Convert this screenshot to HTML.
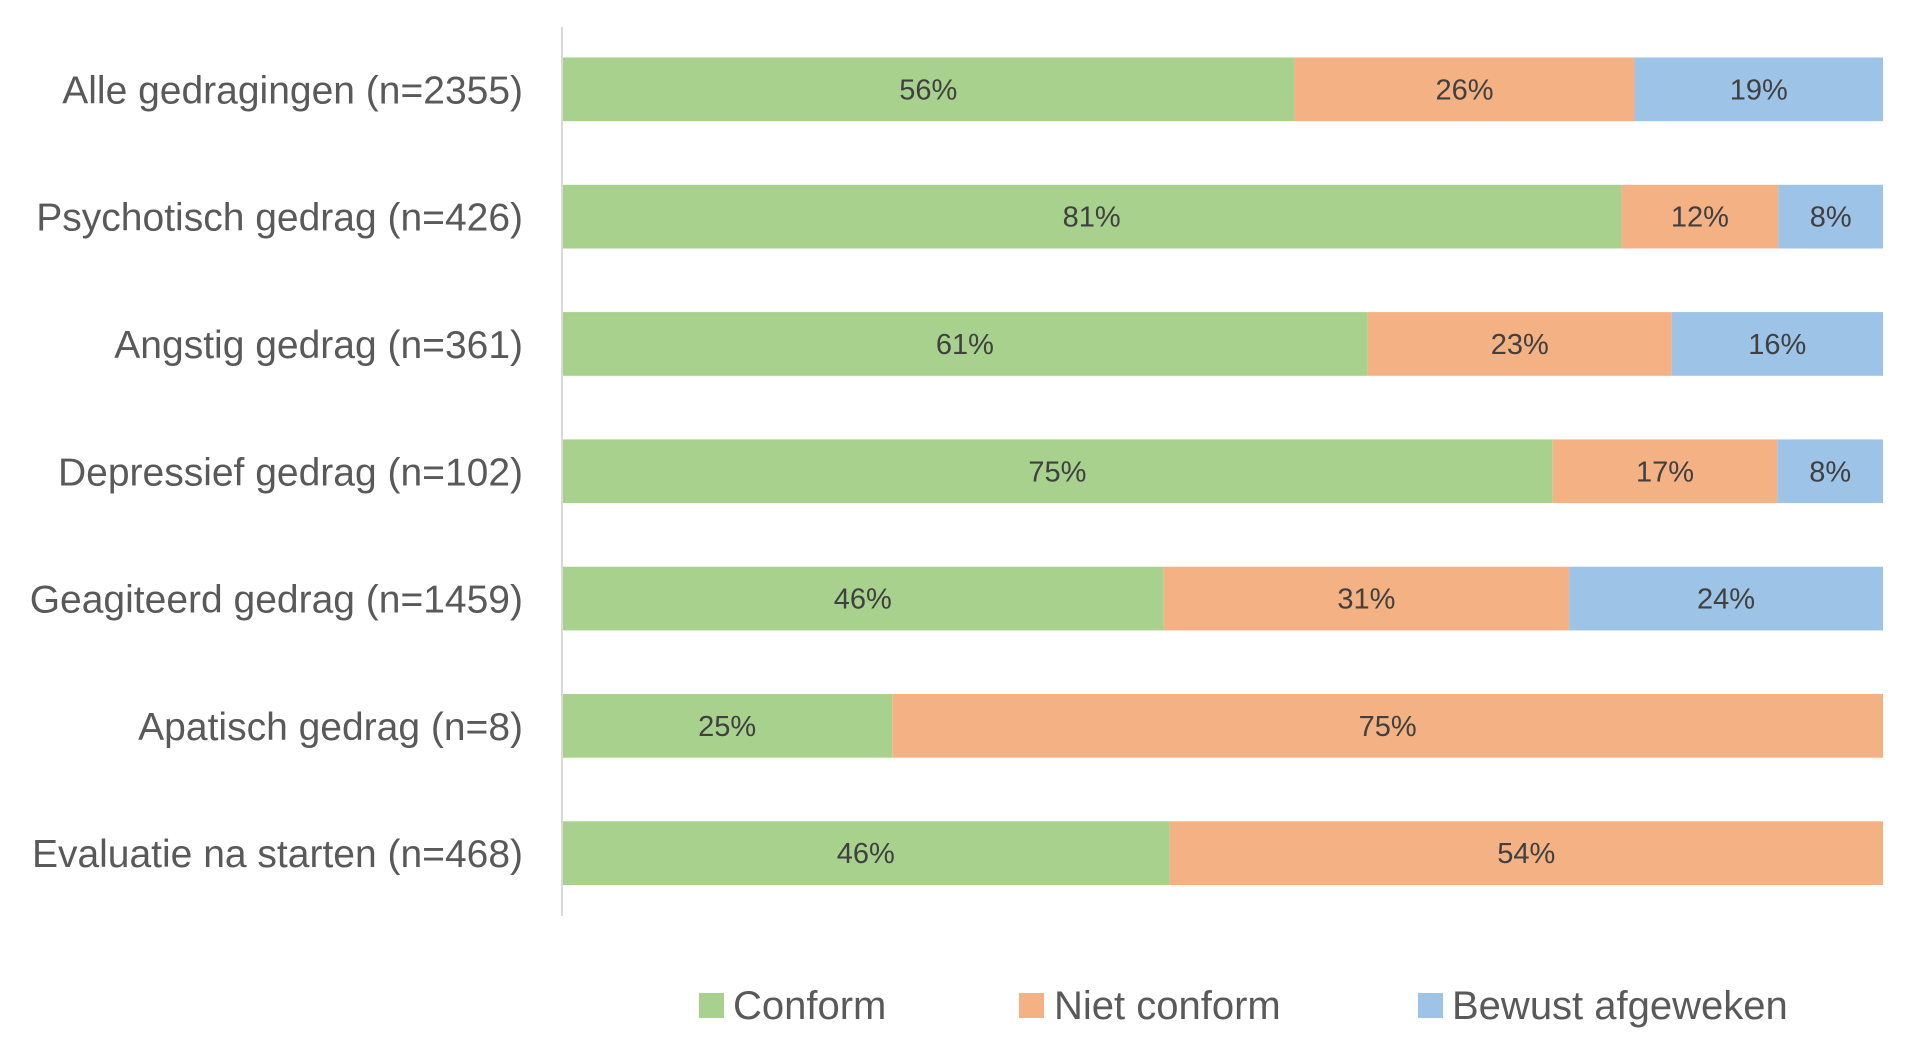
<!DOCTYPE html>
<html><head><meta charset="utf-8"><style>
html,body{margin:0;padding:0;background:#fff;width:1920px;height:1042px;overflow:hidden}
svg{display:block;font-family:"Liberation Sans",sans-serif}
</style></head><body>
<svg id="chart" width="1920" height="1042" viewBox="0 0 1920 1042" xmlns="http://www.w3.org/2000/svg">
<g id="bars"></g>
<g id="labels"></g>
<line x1="562" y1="27" x2="562" y2="916" stroke="#d9d9d9" stroke-width="2"/>
<g font-size="40" fill="#595959">
 <g><rect x="699" y="993" width="25" height="25" fill="#a9d18e"/><text x="733" y="1019">Conform</text></g>
 <g><rect x="1019" y="993" width="25" height="25" fill="#f4b183"/><text x="1054" y="1019">Niet conform</text></g>
 <g><rect x="1418" y="993" width="25" height="25" fill="#9dc3e6"/><text x="1452" y="1019">Bewust afgeweken</text></g>
</g>
</svg>
<script>
const categories = ["Alle gedragingen (n=2355)","Psychotisch gedrag (n=426)","Angstig gedrag (n=361)","Depressief gedrag (n=102)","Geagiteerd gedrag (n=1459)","Apatisch gedrag (n=8)","Evaluatie na starten (n=468)"];
const conform = [56,81,61,75,46,25,46];
const nietConform = [26,12,23,17,31,75,54];
const bewustAfgeweken = [19,8,16,8,24,0,0];
const seriesNames = ["conform","niet-conform","bewust-afgeweken"];

const NS="http://www.w3.org/2000/svg";
const colors=["#a9d18e","#f4b183","#9dc3e6"];
const x0=562, x1=1883, top0=57.5, step=127.3, bh=63.7;
function xScale(frac){return x0+frac*(x1-x0);}
function yScale(i){return top0+i*step;}
const bars=document.getElementById('bars'), labels=document.getElementById('labels');
const series=[conform,nietConform,bewustAfgeweken];
categories.forEach((cat,i)=>{
  const total=series.reduce((s,a)=>s+a[i],0);
  let acc=0;
  const y=yScale(i);
  series.forEach((arr,k)=>{
    const v=arr[i]; if(!v) return;
    const xa=xScale(acc/total), xb=xScale((acc+v)/total); acc+=v;
    const r=document.createElementNS(NS,'rect');
    r.setAttribute('x',xa);r.setAttribute('y',y);r.setAttribute('width',xb-xa);r.setAttribute('height',bh);r.setAttribute('fill',colors[k]);
    
    
    bars.appendChild(r);
    const t=document.createElementNS(NS,'text');
    t.setAttribute('x',(xa+xb)/2);t.setAttribute('y',y+bh/2+10);t.setAttribute('text-anchor','middle');
    t.setAttribute('font-size','29');t.setAttribute('fill','#404040');
    t.textContent=v+'%';
    
    
    bars.appendChild(t);
  });
  const l=document.createElementNS(NS,'text');
  l.setAttribute('x',523);l.setAttribute('y',y+bh/2+14);l.setAttribute('text-anchor','end');
  l.setAttribute('font-size','39');l.setAttribute('fill','#595959');
  l.textContent=cat;
  
  
  labels.appendChild(l);
});
</script>
</body></html>
